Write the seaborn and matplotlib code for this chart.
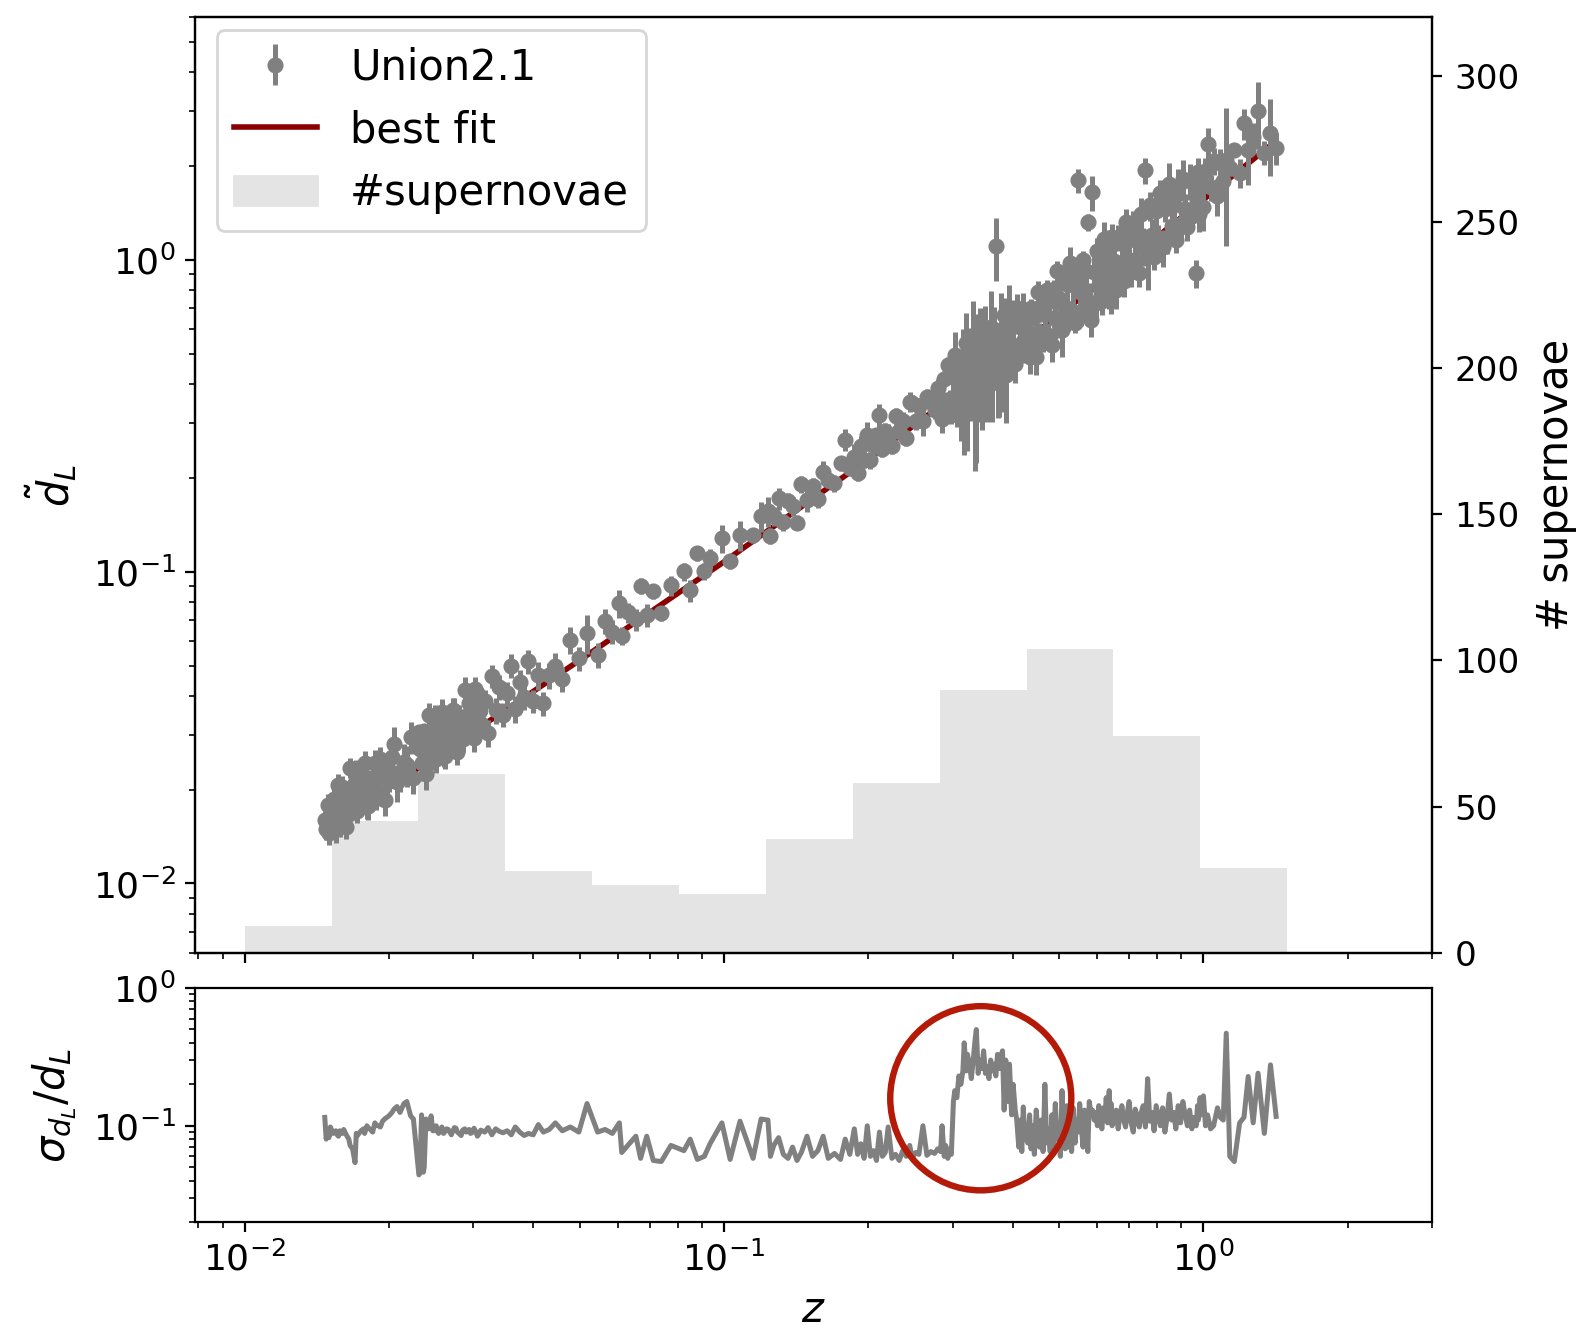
import numpy as np
import matplotlib
matplotlib.use("Agg")
import matplotlib.pyplot as plt
from matplotlib.patches import Ellipse, Patch
from matplotlib.lines import Line2D
import seaborn as sns

# ---------------- data ----------------
z_sn = [
    0.0147, 0.0148, 0.0149, 0.0150, 0.0151,
    0.0153, 0.0155, 0.0157, 0.0159, 0.0161, 0.0163, 0.0166, 0.0168, 0.0170, 0.0172, 0.0175,
    0.0178, 0.0181, 0.0185, 0.0188, 0.0192, 0.0196, 0.0200, 0.0205, 0.0211, 0.0218, 0.0225,
    0.0231, 0.0234, 0.0236, 0.0239, 0.0242, 0.0245, 0.0248, 0.0251, 0.0254, 0.0258, 0.0262,
    0.0266, 0.0270, 0.0274, 0.0278, 0.0283, 0.0288, 0.0292, 0.0296, 0.0301, 0.0306, 0.0311,
    0.0317, 0.0322, 0.0328, 0.0334, 0.0340, 0.0346,
    0.0353, 0.0360, 0.0367, 0.0375, 0.0383, 0.0391, 0.0400, 0.0410, 0.0420, 0.0432, 0.0445,
    0.0460, 0.0478, 0.0498, 0.0518,
    0.0545, 0.0565, 0.0585, 0.0605, 0.0612, 0.0630, 0.0655, 0.0670, 0.0690, 0.0712, 0.0740, 0.0775,
    0.0825, 0.0850, 0.0880, 0.0910, 0.0935, 0.0990, 0.1030, 0.1080, 0.1150, 0.1195,
    0.1235, 0.1250, 0.1270, 0.1300, 0.1330, 0.1360, 0.1390, 0.1420, 0.1450, 0.1490, 0.1530,
    0.1570, 0.1610, 0.1650, 0.1700, 0.1750, 0.1790, 0.1830,
    0.1870, 0.1900, 0.1930, 0.1960, 0.1990, 0.2020, 0.2050, 0.2080, 0.2110, 0.2140, 0.2170,
    0.2200, 0.2240, 0.2280, 0.2320, 0.2360, 0.2400, 0.2440, 0.2470, 0.2510, 0.2550, 0.2600,
    0.2650, 0.2700, 0.2750, 0.2790,
    0.283, 0.285, 0.288, 0.290, 0.293, 0.296, 0.298, 0.301, 0.303, 0.306,
    0.309, 0.312, 0.315, 0.317, 0.320, 0.322, 0.325, 0.328, 0.331, 0.334,
    0.336, 0.339, 0.342, 0.345, 0.348, 0.351, 0.354, 0.357, 0.360, 0.363,
    0.366, 0.369, 0.372, 0.375, 0.378, 0.381, 0.384, 0.387, 0.391, 0.394,
    0.398, 0.401, 0.405, 0.408, 0.412, 0.415, 0.418, 0.421, 0.424, 0.427,
    0.430, 0.434, 0.437, 0.441, 0.444, 0.448, 0.452, 0.455, 0.459, 0.463,
    0.467, 0.471, 0.475, 0.479, 0.483, 0.487, 0.491, 0.495, 0.499, 0.503,
    0.507, 0.511, 0.515, 0.519, 0.523, 0.527, 0.531, 0.535, 0.540, 0.544,
    0.548, 0.552, 0.556, 0.561, 0.565, 0.570, 0.574, 0.578, 0.583, 0.587,
    0.592, 0.596, 0.601, 0.605, 0.610, 0.614, 0.619, 0.623, 0.627, 0.631,
    0.633, 0.636, 0.639, 0.642, 0.645, 0.648,
    0.652, 0.658, 0.664, 0.670, 0.676, 0.682, 0.688, 0.694, 0.700, 0.707,
    0.714, 0.721, 0.728, 0.735, 0.742, 0.749, 0.757, 0.765, 0.773, 0.781,
    0.789, 0.797, 0.805, 0.813, 0.822, 0.831, 0.840, 0.849, 0.858, 0.867,
    0.876, 0.886, 0.896, 0.906, 0.916, 0.926, 0.936, 0.946, 0.956, 0.966,
    0.972, 0.976, 0.980, 0.984,
    0.990, 1.000, 1.010, 1.020, 1.035, 1.050, 1.070, 1.085, 1.100, 1.116,
    1.135, 1.160, 1.190, 1.215, 1.240, 1.270, 1.300, 1.340, 1.380, 1.418,
    # additional low-redshift supernovae
    0.0154, 0.0156, 0.0158, 0.0160, 0.0162, 0.0165, 0.0167, 0.0171, 0.0174, 0.0177,
    0.0180, 0.0183, 0.0187, 0.0190, 0.0194, 0.0198, 0.0203, 0.0208, 0.0215, 0.0222,
    0.0232, 0.0237, 0.0240, 0.0243, 0.0247, 0.0250, 0.0253, 0.0256, 0.0260, 0.0264,
    0.0268, 0.0272, 0.0276, 0.0280, 0.0285, 0.0290, 0.0294, 0.0298, 0.0303, 0.0308,
]

dl_sn = [
    0.0160, 0.0150, 0.0178, 0.0145, 0.0166,
    0.0167, 0.0149, 0.0207, 0.0164, 0.0192, 0.0152, 0.0235, 0.0179, 0.0210, 0.0171, 0.0198,
    0.0244, 0.0177, 0.0216, 0.0191, 0.0250, 0.0185, 0.0223, 0.0281, 0.0224, 0.0240, 0.0218,
    0.0306, 0.0243, 0.0283, 0.0224, 0.0346, 0.0263, 0.0309, 0.0251, 0.0290, 0.0355, 0.0256,
    0.0313, 0.0276, 0.0358, 0.0264, 0.0318, 0.0419, 0.0311, 0.0327, 0.0293, 0.0407, 0.0325,
    0.0384, 0.0304, 0.0464, 0.0360, 0.0426, 0.0348,
    0.0407, 0.0500, 0.0363, 0.0444, 0.0395, 0.0516, 0.0384, 0.0465, 0.0378, 0.0465, 0.0498,
    0.0453, 0.0605, 0.0528, 0.0636,
    0.0540, 0.0696, 0.0643, 0.0793, 0.0623, 0.0740, 0.0703, 0.0902, 0.0728, 0.0865, 0.0736, 0.0904,
    0.1002, 0.0871, 0.1148, 0.1004, 0.1104, 0.1280, 0.1079, 0.1308, 0.1309, 0.1506,
    0.1568, 0.1302, 0.1509, 0.1721, 0.1441, 0.1687, 0.1620, 0.1438, 0.1907, 0.1698, 0.1887,
    0.1711, 0.2085, 0.1976, 0.1926, 0.2229, 0.2652, 0.2154,
    0.2339, 0.2078, 0.2535, 0.2288, 0.2738, 0.2276, 0.2550, 0.2737, 0.3173, 0.2480, 0.2822,
    0.2714, 0.2535, 0.3147, 0.2829, 0.3050, 0.2686, 0.3514, 0.3475, 0.3033, 0.3391, 0.3035,
    0.3640, 0.3492, 0.3302, 0.3893,
    0.358, 0.310, 0.416, 0.333, 0.462, 0.358, 0.318, 0.420, 0.497, 0.346,
    0.415, 0.328, 0.481, 0.396, 0.541, 0.363, 0.471, 0.391, 0.570, 0.363,
    0.447, 0.398, 0.541, 0.384, 0.497, 0.576, 0.414, 0.467, 0.611, 0.403,
    0.550, 1.110, 0.466, 0.424, 0.594, 0.499, 0.668, 0.429, 0.553, 0.647,
    0.484, 0.620, 0.463, 0.701, 0.534, 0.608, 0.501, 0.687, 0.531, 0.601,
    0.579, 0.490, 0.701, 0.539, 0.657, 0.490, 0.787, 0.588, 0.713, 0.541,
    0.669, 0.801, 0.573, 0.743, 0.535, 0.804, 0.650, 0.920, 0.624, 0.752,
    0.597, 0.876, 0.705, 0.836, 0.634, 0.981, 0.688, 0.833, 0.630, 0.916,
    1.800, 0.790, 0.683, 0.997, 0.774, 0.923, 1.320, 0.732, 0.641, 1.650,
    0.918, 0.727, 1.069, 0.816, 1.020, 0.737, 1.169, 0.872, 1.002, 0.797,
    1.113, 0.850, 1.008, 0.786, 1.182, 0.932,
    0.995, 0.802, 1.178, 0.904, 1.136, 0.856, 1.327, 0.994, 1.155, 0.914,
    1.316, 0.999, 1.179, 0.906, 1.401, 1.112, 1.940, 1.029, 1.496, 1.204,
    1.022, 1.435, 1.154, 1.637, 1.098, 1.458, 1.177, 1.750, 1.285, 1.497,
    1.161, 1.714, 1.305, 1.820, 1.454, 1.276, 1.796, 1.384, 1.772, 0.906,
    1.539, 1.910, 1.402, 1.716,
    1.774, 1.484, 1.930, 2.360, 1.713, 2.076, 1.598, 2.041, 1.795, 2.097,
    1.976, 2.256, 1.901, 2.740, 2.248, 2.486, 3.000, 2.209, 2.563, 2.280,
    # additional low-redshift supernovae
    0.0187, 0.0164, 0.0155, 0.0204, 0.0180, 0.0167, 0.0196, 0.0228, 0.0187, 0.0218,
    0.0179, 0.0212, 0.0243, 0.0197, 0.0232, 0.0217, 0.0255, 0.0211, 0.0245, 0.0294,
    0.0271, 0.0308, 0.0250, 0.0298, 0.0277, 0.0342, 0.0271, 0.0308, 0.0260, 0.0335,
    0.0307, 0.0361, 0.0299, 0.0343, 0.0291, 0.0345, 0.0379, 0.0329, 0.0422, 0.0354,
]

rel_err = [
    0.115, 0.080, 0.090, 0.082, 0.098,
    0.088, 0.092, 0.084, 0.090, 0.094, 0.086, 0.072, 0.068, 0.054, 0.085, 0.092,
    0.088, 0.097, 0.090, 0.102, 0.098, 0.112, 0.118, 0.132, 0.125, 0.150, 0.112,
    0.044, 0.120, 0.046, 0.112, 0.095, 0.118, 0.092, 0.100, 0.088, 0.098, 0.091,
    0.094, 0.086, 0.097, 0.090, 0.085, 0.095, 0.092, 0.088, 0.096, 0.084, 0.093,
    0.090, 0.097, 0.086, 0.095, 0.091, 0.089,
    0.092, 0.086, 0.098, 0.090, 0.085, 0.088, 0.086, 0.102, 0.090, 0.094, 0.105,
    0.092, 0.098, 0.090, 0.145,
    0.090, 0.094, 0.088, 0.105, 0.064, 0.072, 0.084, 0.058, 0.084, 0.056, 0.055, 0.072,
    0.066, 0.080, 0.057, 0.060, 0.074, 0.105, 0.057, 0.108, 0.058, 0.112,
    0.110, 0.060, 0.072, 0.082, 0.062, 0.058, 0.070, 0.056, 0.064, 0.084, 0.060,
    0.066, 0.084, 0.058, 0.063, 0.057, 0.080, 0.062,
    0.095, 0.062, 0.074, 0.058, 0.100, 0.060, 0.066, 0.056, 0.090, 0.060, 0.064,
    0.098, 0.058, 0.062, 0.056, 0.066, 0.060, 0.072, 0.058, 0.064, 0.062, 0.100,
    0.061, 0.065, 0.063, 0.068,
    0.065, 0.100, 0.060, 0.072, 0.058, 0.068, 0.062, 0.150, 0.180, 0.160,
    0.230, 0.200, 0.250, 0.400, 0.250, 0.330, 0.280, 0.220, 0.300, 0.420,
    0.500, 0.240, 0.300, 0.260, 0.350, 0.240, 0.270, 0.220, 0.300, 0.250,
    0.280, 0.230, 0.330, 0.260, 0.320, 0.350, 0.130, 0.300, 0.150, 0.280,
    0.120, 0.200, 0.130, 0.110, 0.070, 0.110, 0.065, 0.137, 0.080, 0.095,
    0.075, 0.120, 0.068, 0.100, 0.062, 0.130, 0.085, 0.070, 0.110, 0.065,
    0.200, 0.075, 0.095, 0.065, 0.120, 0.072, 0.145, 0.080, 0.100, 0.060,
    0.180, 0.090, 0.068, 0.140, 0.070, 0.120, 0.065, 0.135, 0.075, 0.110,
    0.090, 0.145, 0.100, 0.070, 0.130, 0.110, 0.065, 0.150, 0.120, 0.130,
    0.110, 0.125, 0.100, 0.140, 0.118, 0.095, 0.135, 0.110, 0.160, 0.105,
    0.120, 0.180, 0.110, 0.145, 0.100, 0.125,
    0.105, 0.130, 0.095, 0.120, 0.140, 0.110, 0.098, 0.125, 0.150, 0.105,
    0.090, 0.132, 0.115, 0.098, 0.125, 0.140, 0.098, 0.220, 0.108, 0.125,
    0.092, 0.140, 0.118, 0.100, 0.135, 0.090, 0.115, 0.170, 0.110, 0.125,
    0.095, 0.140, 0.105, 0.150, 0.120, 0.100, 0.130, 0.095, 0.115, 0.100,
    0.140, 0.110, 0.125, 0.160,
    0.120, 0.165, 0.100, 0.120, 0.095, 0.100, 0.135, 0.115, 0.110, 0.470,
    0.060, 0.055, 0.105, 0.115, 0.228, 0.105, 0.241, 0.088, 0.277, 0.117,
    # additional low-redshift supernovae
    0.090, 0.086, 0.092, 0.088, 0.090, 0.080, 0.070, 0.088, 0.090, 0.095,
    0.100, 0.094, 0.105, 0.100, 0.108, 0.115, 0.125, 0.138, 0.145, 0.118,
    0.045, 0.050, 0.105, 0.098, 0.092, 0.096, 0.090, 0.094, 0.088, 0.095,
    0.090, 0.092, 0.096, 0.088, 0.093, 0.090, 0.094, 0.089, 0.092, 0.087,
]

fit_z = [0.015, 0.03, 0.05, 0.1, 0.2, 0.3, 0.5, 0.7, 1.0, 1.2, 1.414]
fit_dl = [0.0151, 0.0307, 0.0520, 0.1076, 0.2295, 0.3641, 0.6661, 1.0039, 1.5616, 1.96, 2.40]

hist_edges = [0.0100, 0.0152, 0.0230, 0.0350, 0.0531, 0.0806, 0.1223, 0.1856,
              0.2818, 0.4277, 0.6492, 0.9854, 1.4957]
hist_counts = [9, 45, 61, 28, 23, 20, 39, 58, 90, 104, 74, 29]

# ---------------- figure ----------------
plt.rcParams["font.family"] = ["DejaVu Sans"]
plt.rcParams["xtick.labelsize"] = 13
plt.rcParams["ytick.labelsize"] = 13

fig = plt.figure(figsize=(7.895, 6.675), dpi=200)
ax = fig.add_axes([0.1238, 0.2864, 0.7832, 0.7006])
axb = fig.add_axes([0.1238, 0.0846, 0.7832, 0.1753], sharex=ax)
axr = ax.twinx()

ax.set_xscale("log")
ax.set_yscale("log")
axb.set_yscale("log")

hist_color = "#e4e4e4"
e = np.array(hist_edges)
axr.bar(e[:-1], hist_counts, width=np.diff(e), align="edge",
        color=hist_color, linewidth=0)
axr.set_ylim(0, 320)
axr.set_ylabel("# supernovae", fontsize=15, labelpad=5.5)
axr.tick_params(axis="y", labelsize=12.3, pad=4.5)

ax.set_zorder(axr.get_zorder() + 1)
ax.patch.set_visible(False)

sns.lineplot(x=fit_z, y=fit_dl, ax=ax, color="darkred", lw=2, zorder=2,
             estimator=None, legend=False)
err = np.array(dl_sn) * np.array(rel_err)
eb = ax.errorbar(z_sn, dl_sn, yerr=err, fmt="o", color="grey", ms=4.8,
                 elinewidth=1.8, zorder=3)

ax.set_xlim(0.0079, 3.0)
ax.set_ylim(0.006, 6)
ax.set_ylabel(r"$\tilde{d}_L$", fontsize=15, labelpad=5)
ax.tick_params(labelbottom=False)

handles = [eb, Line2D([], [], color="darkred", lw=2), Patch(color=hist_color)]
labels = ["Union2.1", "best fit", "#supernovae"]
ax.legend(handles, labels, loc="upper left", bbox_to_anchor=(0.0173, 0.987),
          borderaxespad=0, fontsize=15)

sns.lineplot(x=z_sn, y=rel_err, ax=axb, color="grey", lw=1.8,
             estimator=None, legend=False)
axb.set_ylim(0.02, 1.0)
axb.set_xlim(0.0079, 3.0)
axb.set_ylabel(r"$\sigma_{d_L}/d_L$", fontsize=15, labelpad=5)
axb.set_xlabel(r"$z$", fontsize=15)

circ = Ellipse((0.635, 0.529), 0.1464, 0.787, transform=axb.transAxes,
               fill=False, edgecolor="#b41a08", lw=2.3, clip_on=False, zorder=5)
axb.add_patch(circ)

fig.align_ylabels([ax, axb])
fig.savefig("out.png", dpi=200)
